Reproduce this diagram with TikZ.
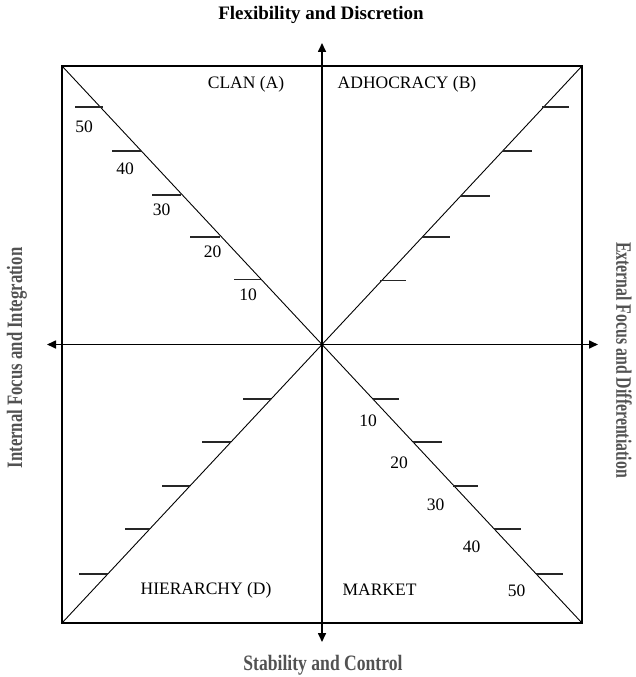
\documentclass[tikz,border=0pt]{standalone}
\usepackage{fontspec}
\usepackage{graphicx}
\setmainfont{Liberation Serif}
\usetikzlibrary{arrows.meta}
\begin{document}
\begin{tikzpicture}[x=1pt,y=-1pt,
  boxline/.style={line width=1.4pt},
  diagline/.style={line width=0.9pt},
  axisline/.style={line width=1.6pt,{Triangle[length=9pt,width=8pt]}-{Triangle[length=9pt,width=8pt]}},
  tickmark/.style={line width=1.2pt,draw=black!85},
  hidtick/.style={line width=2.6pt,draw=black},
  lbl/.style={font=\fontsize{17.5}{20}\selectfont,inner sep=0pt},
  side/.style={font=\bfseries\fontsize{22}{24}\selectfont,text=black!68,inner sep=0pt},
  title/.style={font=\bfseries\fontsize{19}{24}\selectfont,inner sep=0pt}
]
\useasboundingbox (0,0) rectangle (635,677);
% frame
\coordinate (tl) at (62,66);
\coordinate (tr) at (582,66);
\coordinate (bl) at (62,623);
\coordinate (br) at (582,623);
\draw[boxline] (tl) rectangle (br);
\draw[hidtick] (124,623) -- (152,623);
\draw[hidtick] (493,623) -- (520,623);
% diagonals
\draw[diagline] (tl) -- (br);
\draw[diagline] (bl) -- (tr);
% axes
\coordinate (n) at (322,43);
\coordinate (s) at (322,642);
\coordinate (w) at (47,344.5);
\coordinate (e) at (598,344.5);
\draw[axisline] (s) -- (n);
\draw[axisline] (w) -- (e);
% ticks CLAN
\draw[tickmark] (75,107) -- (103,107);
\draw[tickmark] (112,151) -- (141,151);
\draw[tickmark] (152,195) -- (181,195);
\draw[tickmark] (190,237) -- (220,237);
\draw[tickmark] (234,279.5) -- (262,279.5);
% ticks ADHOCRACY
\draw[tickmark] (542,107) -- (569,107);
\draw[tickmark] (503,151) -- (532,151);
\draw[tickmark] (461,196) -- (490,196);
\draw[tickmark] (422,237) -- (450,237);
\draw[tickmark] (380,280.5) -- (406,280.5);
% ticks HIERARCHY
\draw[tickmark] (243,399) -- (271,399);
\draw[tickmark] (202,442) -- (231,442);
\draw[tickmark] (162,486) -- (190,486);
\draw[tickmark] (125,529) -- (150,529);
\draw[tickmark] (79,574) -- (108,574);
% ticks MARKET
\draw[tickmark] (373,399) -- (399,399);
\draw[tickmark] (413,442) -- (442,442);
\draw[tickmark] (453,486) -- (478,486);
\draw[tickmark] (494,529) -- (521,529);
\draw[tickmark] (536,574) -- (563,574);
% numbers CLAN
\node[lbl] (c50) at (84,127) {50};
\node[lbl] (c40) at (125,168.5) {40};
\node[lbl] (c30) at (161.5,210) {30};
\node[lbl] (c20) at (212.5,252) {20};
\node[lbl] (c10) at (248,295) {10};
% numbers MARKET
\node[lbl] (m10) at (368,421) {10};
\node[lbl] (m20) at (399,463) {20};
\node[lbl] (m30) at (435.5,505) {30};
\node[lbl] (m40) at (471.7,546.7) {40};
\node[lbl] (m50) at (516.7,591) {50};
% quadrant names
\node[lbl] (clan) at (246,84) {CLAN (A)};
\node[lbl] (adho) at (407,84) {ADHOCRACY (B)};
\node[lbl] (hier) at (206,590) {HIERARCHY (D)};
\node[lbl] (mark) at (379.5,590) {MARKET};
% axis titles
\node[title] (flex) at (321,15) {Flexibility and Discretion};
\node[side] (stab) at (323,665) {\scalebox{0.8}[1]{Stability and Control}};
\node[side,rotate=90] (intl) at (17,358) {\scalebox{0.76}[1]{Internal Focus and Integration}};
\node[side,rotate=-90] (extl) at (624,360) {\scalebox{0.72}[1]{External Focus and Differentiation}};
\end{tikzpicture}
\end{document}
